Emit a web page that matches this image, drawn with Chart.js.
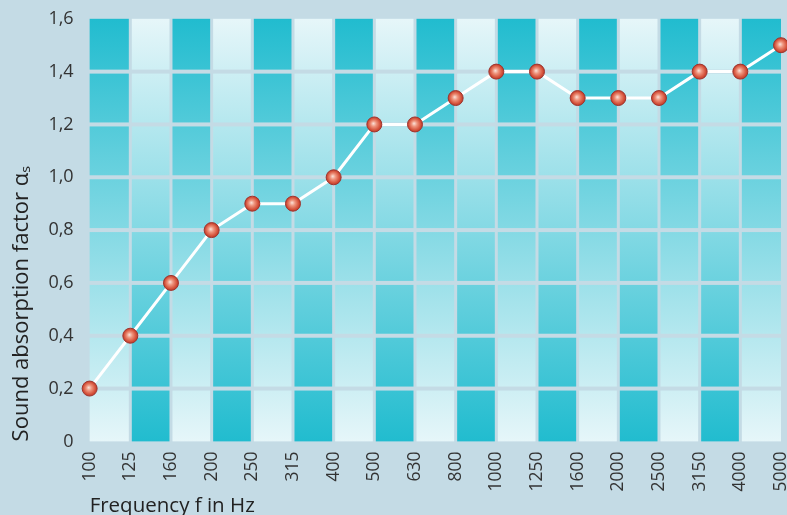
<!DOCTYPE html>
<html>
<head>
<meta charset="utf-8">
<script src="https://cdn.jsdelivr.net/npm/chart.js@4/dist/chart.umd.min.js"></script>
<style>
    html, body { margin: 0; padding: 0; background: #c4dbe5; }
    #wrap { width: 787px; height: 515px; position: relative; }
</style>
</head>
<body>
<div id="wrap"><canvas id="absorptionChart"></canvas></div>
<script>
const frequencies = ["100", "125", "160", "200", "250", "315", "400", "500", "630",
    "800", "1000", "1250", "1600", "2000", "2500", "3150", "4000", "5000"];
const absorption = [0.2, 0.4, 0.6, 0.8, 0.9, 0.9, 1.0, 1.2, 1.2,
    1.3, 1.4, 1.4, 1.3, 1.3, 1.3, 1.4, 1.4, 1.5];
const yTicks = [0, 0.2, 0.4, 0.6, 0.8, 1.0, 1.2, 1.4, 1.6];

const darkCyan = "#21bccf";
const lightCyan = "#e6f6f9";

// striped cells behind the line, one gradient per column
const cellBackground = {
    id: "cellBackground",
    beforeDatasetsDraw(chart) {
        const { ctx, chartArea, scales } = chart;
        const x = scales.x;
        const y = scales.y;
        const gapX = 3;
        const gapY = 4;
        ctx.save();
        for (let i = 0; i < frequencies.length - 1; i++) {
            let left = x.getPixelForValue(i);
            let right = x.getPixelForValue(i + 1);
            if (i > 0) left += gapX / 2;
            if (i < frequencies.length - 2) right -= gapX / 2;
            const grad = ctx.createLinearGradient(0, chartArea.top, 0, chartArea.bottom);
            if (i % 2 === 0) {
                grad.addColorStop(0, darkCyan);
                grad.addColorStop(1, lightCyan);
            } else {
                grad.addColorStop(0, lightCyan);
                grad.addColorStop(1, darkCyan);
            }
            ctx.fillStyle = grad;
            for (let j = 0; j < yTicks.length - 1; j++) {
                let bottom = y.getPixelForValue(yTicks[j]);
                let top = y.getPixelForValue(yTicks[j + 1]);
                if (j > 0) bottom -= gapY / 2;
                if (j < yTicks.length - 2) top += gapY / 2;
                ctx.fillRect(left, top, right - left, bottom - top);
            }
        }
        ctx.restore();
    },
};

function pointFill(context) {
    const chart = context.chart;
    if (!chart.chartArea) return "#d4503a";
    const px = chart.scales.x.getPixelForValue(context.dataIndex);
    const py = chart.scales.y.getPixelForValue(absorption[context.dataIndex]);
    const g = chart.ctx.createRadialGradient(px - 1, py - 1, 0, px, py, 8);
    g.addColorStop(0, "#fbe3da");
    g.addColorStop(0.35, "#ee937c");
    g.addColorStop(0.75, "#d5523b");
    g.addColorStop(1, "#b83523");
    return g;
}

new Chart(document.getElementById("absorptionChart"), {
    type: "line",
    data: {
        labels: frequencies,
        datasets: [
            {
                data: absorption,
                borderColor: "#ffffff",
                borderWidth: 3,
                tension: 0,
                pointRadius: 7.5,
                pointBackgroundColor: pointFill,
                pointBorderColor: "#9c3530",
                pointBorderWidth: 1,
                clip: false,
            },
        ],
    },
    plugins: [cellBackground],
    options: {
        responsive: true,
        maintainAspectRatio: false,
        animation: false,
        layout: {
            autoPadding: false,
            padding: { top: 10, right: 0, bottom: -3, left: 9 },
        },
        plugins: {
            legend: { display: false },
            tooltip: { enabled: false },
        },
        scales: {
            x: {
                type: "category",
                offset: false,
                grid: { display: false },
                border: { display: false },
                afterFit(scale) {
                    // let the last rotated label run to the canvas edge
                    scale.paddingRight = 6;
                },
                ticks: {
                    color: "#333333",
                    font: { family: "Open Sans", size: 17.5 },
                    minRotation: 90,
                    maxRotation: 90,
                    padding: 2,
                    autoSkip: false,
                },
                title: {
                    display: true,
                    text: "Frequency f in Hz",
                    align: "start",
                    color: "#222222",
                    font: { family: "Open Sans", size: 20.5 },
                    padding: { top: 0, bottom: 0 },
                },
            },
            y: {
                min: 0,
                max: 1.6,
                grid: { display: false },
                border: { display: false },
                afterBuildTicks(axis) {
                    axis.ticks = yTicks.map((v) => ({ value: v }));
                },
                ticks: {
                    color: "#333333",
                    font: { family: "Open Sans", size: 18 },
                    padding: 8,
                    callback: (v) => (v === 0 ? "0" : v.toFixed(1).replace(".", ",")),
                },
                title: {
                    display: true,
                    text: "Sound absorption factor \u03b1\u209b",
                    align: "start",
                    color: "#222222",
                    font: { family: "Open Sans", size: 22 },
                    padding: { top: 0, bottom: 5 },
                },
            },
        },
    },
});
</script>
</body>
</html>
